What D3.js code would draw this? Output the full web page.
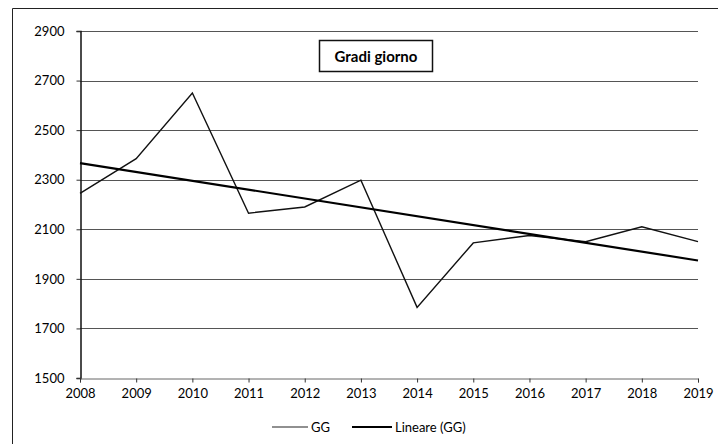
<!DOCTYPE html>
<html>
<head>
<meta charset="utf-8">
<script src="https://cdn.jsdelivr.net/npm/d3@7"></script>
<style>
  body { margin: 0; background: #fff; }
  svg text { font-family: Lato, "Open Sans", sans-serif; fill: #000; }
</style>
</head>
<body>
<div id="chart"></div>
<script>
// values
var years = [2008, 2009, 2010, 2011, 2012, 2013, 2014, 2015, 2016, 2017, 2018, 2019];
var gg = [2245, 2385, 2650, 2165, 2190, 2298, 1785, 2045, 2075, 2050, 2110, 2050];
var yTicks = [1500, 1700, 1900, 2100, 2300, 2500, 2700, 2900];
var chartTitle = "Gradi giorno";
var legendNames = ["GG", "Lineare (GG)"];

var width = 718, height = 444;
var margin = {top: 31, right: 20, bottom: 66, left: 80};

var svg = d3.select("#chart").append("svg")
    .attr("width", width)
    .attr("height", height);

// outer frame (only left and top edges are visible in the scan)
svg.append("path")
    .attr("d", "M12.5," + height + "V8.5H" + width)
    .attr("fill", "none")
    .attr("stroke", "#222")
    .attr("stroke-width", 1);

var x = d3.scaleLinear()
    .domain([2008, 2019])
    .range([margin.left, 698]);

var y = d3.scaleLinear()
    .domain([1500, 2900])
    .range([378, margin.top]);

// gridlines
svg.append("g")
    .selectAll("line")
    .data(yTicks.filter(function(d) { return d > 1500; }))
    .enter().append("line")
    .attr("x1", x(2008)).attr("x2", x(2019))
    .attr("y1", function(d) { return Math.round(y(d)) + 0.5; })
    .attr("y2", function(d) { return Math.round(y(d)) + 0.5; })
    .attr("stroke", "#555")
    .attr("stroke-width", 1);

// y axis
var yAxis = svg.append("g")
    .attr("transform", "translate(" + (x(2008) + 0.5) + ",0)")
    .call(d3.axisLeft(y).tickValues(yTicks).tickSize(4).tickPadding(12).tickFormat(d3.format("d")));
yAxis.select(".domain").attr("stroke", "#111").attr("stroke-width", 1.5);
yAxis.selectAll(".tick line").attr("stroke", "#333");
yAxis.selectAll("text").style("font-size", "13px");

// x axis
var xAxis = svg.append("g")
    .attr("transform", "translate(0," + (Math.round(y(1500)) + 0.5) + ")")
    .call(d3.axisBottom(x).tickValues(years).tickSize(4).tickPadding(6).tickFormat(d3.format("d")));
xAxis.select(".domain").attr("stroke", "#666").attr("stroke-width", 1);
xAxis.selectAll(".tick line").attr("stroke", "#333");
xAxis.selectAll("text").style("font-size", "13px");

// least squares trend line (Excel "Lineare")
var mx = d3.mean(years), my = d3.mean(gg);
var sxy = d3.sum(years, function(d, i) { return (d - mx) * (gg[i] - my); });
var sxx = d3.sum(years, function(d) { return (d - mx) * (d - mx); });
var slope = sxy / sxx, icpt = my - slope * mx;
var trend = [years[0], years[years.length - 1]].map(function(d) { return [d, icpt + slope * d]; });

var line = d3.line()
    .x(function(d) { return x(d[0]); })
    .y(function(d) { return y(d[1]); });

svg.append("path")
    .datum(years.map(function(d, i) { return [d, gg[i]]; }))
    .attr("d", line)
    .attr("fill", "none")
    .attr("stroke", "#111")
    .attr("stroke-width", 1.4);

svg.append("path")
    .datum(trend)
    .attr("d", line)
    .attr("fill", "none")
    .attr("stroke", "#000")
    .attr("stroke-width", 2.2);

// title box
var tg = svg.append("g");
tg.append("rect")
    .attr("x", 319.5).attr("y", 40.5)
    .attr("width", 113).attr("height", 31)
    .attr("fill", "#fff")
    .attr("stroke", "#111")
    .attr("stroke-width", 1.5);
tg.append("text")
    .attr("x", 376).attr("y", 62)
    .attr("text-anchor", "middle")
    .style("font-size", "15px")
    .style("font-weight", "bold")
    .text(chartTitle);

// legend
var lg = svg.append("g").attr("transform", "translate(0,427)");
lg.append("line").attr("x1", 272).attr("x2", 308).attr("y1", 0).attr("y2", 0)
    .attr("stroke", "#222").attr("stroke-width", 1.2);
lg.append("text").attr("x", 311).attr("y", 4.5).style("font-size", "13px").text(legendNames[0]);
lg.append("line").attr("x1", 352).attr("x2", 392).attr("y1", 0).attr("y2", 0)
    .attr("stroke", "#000").attr("stroke-width", 2);
lg.append("text").attr("x", 395).attr("y", 4.5).style("font-size", "13px").text(legendNames[1]);
</script>
</body>
</html>
